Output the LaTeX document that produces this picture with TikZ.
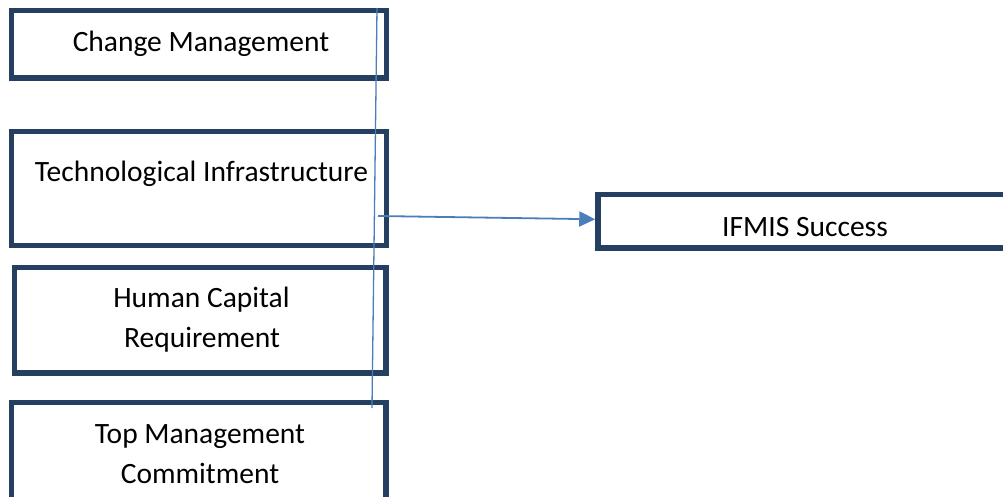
\documentclass[tikz,border=0pt]{standalone}
\usepackage{fontspec}
\setmainfont{Carlito}
\usetikzlibrary{arrows.meta}
\definecolor{boxnavy}{HTML}{243F60}
\definecolor{linkblue}{HTML}{4A7EBB}
\tikzset{
  factorbox/.style={draw=boxnavy, line width=5.5pt, rectangle, inner sep=0pt},
  label text/.style={inner sep=0pt, anchor=base, font=\fontsize{29.5}{40}\selectfont, text=black},
  link/.style={draw=linkblue, line width=1.8pt},
}
\begin{document}
\begin{tikzpicture}[x=1pt,y=-1pt]
\useasboundingbox (0,0) rectangle (1003,497);
% boxes
\node[factorbox, minimum width=375pt, minimum height=67.5pt] (change) at (199,44.25) {};
\node[factorbox, minimum width=375pt, minimum height=114pt] (tech) at (199,188.5) {};
\node[factorbox, minimum width=371.5pt, minimum height=105.5pt] (human) at (200.25,320.25) {};
\node[factorbox, minimum width=374.5pt, minimum height=117.5pt] (top) at (198.75,461.25) {};
\node[factorbox, minimum width=412pt, minimum height=53.5pt] (ifmis) at (804,221.25) {};
% texts
\node[label text] (changeT) at (201,52) {Change Management};
\node[label text] (techT) at (201.5,182) {Technological Infrastructure};
\node[label text] (humanT1) at (201.5,307) {Human Capital};
\node[label text] (humanT2) at (202,347) {Requirement};
\node[label text] (topT1) at (200,443) {Top Management};
\node[label text] (topT2) at (200,483) {Commitment};
\node[label text] (ifmisT) at (805,236) {IFMIS Success};
% connectors
\coordinate (vtop) at (377,8);
\coordinate (vbot) at (372,408);
\coordinate (astart) at (378,216);
\draw[link, line width=1.3pt] (vtop) -- (vbot);
\draw[link, -{Triangle[length=16pt,width=15pt]}] (astart) -- ([yshift=2pt]ifmis.west);
\end{tikzpicture}
\end{document}
